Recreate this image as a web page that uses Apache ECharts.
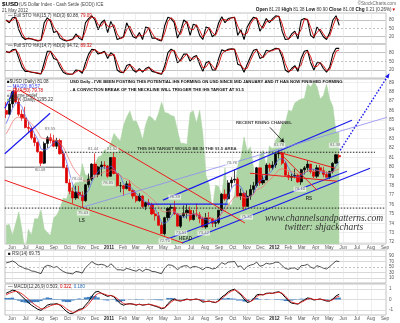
<!DOCTYPE html>
<html>
<head>
<meta charset="utf-8">
<title>$USD Daily</title>
<script src="https://cdn.jsdelivr.net/npm/echarts@6/dist/echarts.min.js"></script>
<style>
  html, body { margin: 0; padding: 0; background: #fff; }
  #chart { width: 400px; height: 323px; }
</style>
</head>
<body>
<div id="chart"></div>
<script>
// ---------- weekly $USD bars, first bar = week of Monday 17 May 2010 ----------
const firstWeek = '2010-05-17';
const open = [86.0,85.6,86.7,88.0,86.9,85.6,85.2,84.2,84.1,83.1, 82.6,81.6,80.4,82.5,83.1,82.8,82.2,82.8,81.4,79.9,
  78.3,77.4,76.7,77.3,77.0,76.4,78.1,78.7,80.3,79.2, 80.0,80.2,80.1,79.0,81.0,79.3,78.0,78.0,77.7,78.2,
  77.5,76.9,76.4,76.9,75.8,76.2,76.0,75.0,74.8,73.8, 72.9,74.6,75.6,75.7,75.0,73.7,74.8,75.1,75.4,74.4,
  75.0,74.9,74.5,73.6,74.6,74.5,74.0,74.1,75.4,77.1, 76.6,78.3,78.6,78.7,76.9,77.2,75.8,76.9,77.6,78.0,
  79.9,78.3,78.6,80.2,79.9,80.2,81.4,81.5,80.4,79.1, 78.9,79.0,79.1,78.4,79.7,79.9,80.3,79.5,79.0,79.9,
  79.6,79.2,78.9,79.5,80.4,81.20];
const high = [86.9,87.2,88.1,88.7,87.3,86.1,86.4,84.8,84.3,83.5, 82.7,81.7,82.7,83.3,83.55,83.4,83.1,83.0,81.8,80.2,
  78.7,77.8,78.0,78.0,77.4,78.2,79.3,80.4,81.44,80.1, 80.6,80.6,80.2,81.0,81.52,79.4,78.4,78.1,78.5,78.6,
  77.6,77.3,77.2,77.0,76.3,76.6,76.2,75.4,75.2,74.1, 74.7,75.7,76.0,76.39,75.1,74.9,75.9,76.0,75.8,75.4,
  76.1,75.2,74.7,75.1,75.2,74.6,74.4,75.4,77.2,77.6, 78.6,78.9,79.76,78.9,77.7,77.3,77.5,78.1,78.4,80.0,
  79.9,79.1,80.4,80.4,80.6,81.4,81.78,81.6,80.6,79.5, 79.3,79.8,79.3,79.8,80.1,80.7,80.3,79.8,80.2,80.2,
  80.0,79.5,79.6,80.5,81.38,81.38];
const low = [85.2,85.5,86.3,86.8,85.4,84.9,84.1,83.6,82.9,82.2, 81.5,80.08,80.3,82.0,82.5,82.1,81.9,81.3,79.9,78.3,
  77.1,76.1,76.5,76.6,75.63,76.3,77.8,78.5,79.1,78.9, 79.0,79.8,78.85,79.0,79.2,77.9,77.3,76.9,77.6,77.4,
  76.6,76.2,76.3,75.6,75.4,75.8,74.9,74.3,73.7,72.9, 72.70,74.3,74.9,74.9,73.7,73.51,74.6,74.5,74.2,74.3,
  74.7,74.0,73.6,73.42,73.9,73.6,73.6,73.9,75.3,76.4, 76.5,77.8,78.3,76.8,76.5,75.31,75.8,76.5,77.2,77.8,
  78.0,78.1,78.6,79.5,79.7,79.9,80.9,80.2,79.1,78.6, 78.5,78.8,78.3,78.10,79.2,79.5,79.3,78.8,78.8,79.2,
  78.9,78.9,78.7,79.3,80.3,80.90];
const close = [85.6,86.7,88.0,86.9,85.6,85.2,84.2,84.1,83.1,82.6, 81.6,80.4,82.5,83.1,82.8,82.2,82.8,81.4,79.9,78.3,
  77.4,76.7,77.3,77.0,76.4,78.1,78.7,80.3,79.2,80.0, 80.2,80.1,79.0,81.0,79.3,78.0,78.0,77.7,78.2,77.5,
  76.9,76.4,76.9,75.8,76.2,76.0,75.0,74.8,73.8,72.9, 74.6,75.6,75.7,75.0,73.7,74.8,75.1,75.4,74.4,75.0,
  74.9,74.5,73.6,74.6,74.5,74.0,74.1,75.4,77.1,76.6, 78.3,78.6,78.7,76.9,77.2,75.8,76.9,77.6,78.0,79.9,
  78.3,78.6,80.2,79.9,80.2,81.4,81.5,80.4,79.1,78.9, 79.0,79.1,78.4,79.7,79.9,80.3,79.5,79.0,79.9,79.6,
  79.2,78.9,79.5,80.4,81.29,81.08];
const ma20 = [84.6,85.4,86.2,86.8,86.8,86.4,85.5,84.8,84.2,83.5, 82.9,81.9,81.8,81.9,82.2,82.6,82.7,82.3,81.6,80.6,
  79.3,78.1,77.4,77.1,76.8,77.1,77.5,78.4,79.1,79.5, 79.9,79.9,79.8,80.1,79.8,79.3,79.1,78.2,78.0,77.9,
  77.6,77.2,76.9,76.5,76.3,76.2,75.7,75.5,74.9,74.1, 74.0,74.2,74.7,75.2,75.0,74.8,74.6,74.8,74.9,75.0,
  74.9,74.7,74.5,74.4,74.3,74.2,74.3,74.5,75.2,75.8, 76.9,77.7,78.1,78.1,77.9,77.2,76.7,76.9,77.1,78.1,
  78.5,78.7,79.2,79.3,79.7,80.4,80.8,80.9,80.6,79.9, 79.3,79.0,78.9,79.1,79.3,79.6,79.8,79.7,79.7,79.5,
  79.4,79.4,79.3,79.5,80.1,80.57];
const ema50 = [83.5,84.1,84.8,85.2,85.3,85.2,85.1,84.9,84.6,84.2, 83.7,83.1,83.0,83.0,83.0,82.9,82.8,82.6,82.1,81.4,
  80.7,80.0,79.5,79.1,78.6,78.5,78.5,78.9,78.9,79.1, 79.3,79.5,79.4,79.7,79.6,79.3,79.1,78.8,78.7,78.5,
  78.2,77.9,77.7,77.4,77.2,76.9,76.6,76.3,75.8,75.3, 75.2,75.3,75.3,75.3,75.0,75.0,75.0,75.1,74.9,75.0,
  74.9,74.9,74.6,74.6,74.6,74.5,74.4,74.6,75.1,75.3, 75.9,76.4,76.8,76.8,76.9,76.7,76.7,76.9,77.1,77.6,
  77.7,77.9,78.3,78.6,78.9,79.3,79.7,79.8,79.7,79.6, 79.5,79.4,79.2,79.3,79.4,79.6,79.6,79.5,79.6,79.6,
  79.5,79.4,79.4,79.5,79.65,79.78];
const spx = [1087,1089,1064,1091,1117,1076,1022,1078,1065,1102, 1101,1121,1079,1071,1064,1104,1110,1125,1148,1146,
  1165,1176,1183,1183,1225,1199,1199,1189,1224,1240, 1243,1256,1258,1271,1293,1283,1276,1311,1329,1343,
  1320,1321,1304,1279,1313,1332,1328,1319,1337,1363, 1340,1338,1333,1331,1300,1271,1271,1268,1339,1344,
  1316,1345,1292,1199,1178,1123,1177,1174,1154,1216, 1136,1131,1155,1224,1238,1285,1253,1263,1216,1159,
  1244,1255,1219,1265,1258,1278,1289,1315,1316,1345, 1342,1361,1366,1370,1371,1404,1397,1408,1398,1370,
  1378,1403,1369,1353,1295.22,1295.22];

// ---------- indicator panels ----------
const stoK1 = [80,70,88,90,45,20,10,15,12,8, 5,8,70,88,75,35,40,15,8,5, 8,12,30,15,8,70,85,95,80,45,
  70,80,35,75,50,10,15,20,70,45, 20,15,35,10,55,50,15,15,8,5, 60,90,85,70,15,40,80,70,25,65,
  60,25,10,55,50,20,30,70,92,70, 85,88,90,25,45,10,55,75,90,85, 40,60,85,70,85,95,92,40,10,12,
  30,40,12,80,85,80,25,15,55,40, 20,10,35,80,95,60.88];
const stoD1 = [78,75,79,89,68,33,15,12,13,10, 7,7,39,79,82,55,38,28,12,7, 7,10,21,23,12,39,78,90,88,63,
  58,75,58,55,63,30,13,18,45,58, 33,18,25,23,33,53,33,15,12,7, 33,75,88,78,43,28,60,75,48,45,
  63,43,18,33,53,35,25,50,81,81, 78,87,89,58,35,28,33,65,83,88, 63,50,73,78,78,90,94,66,25,11,
  21,35,26,46,83,83,53,20,35,48, 30,15,23,58,88,79.09];
const stoK2 = [85,80,90,92,60,30,15,15,12,10, 8,6,45,85,85,60,55,30,12,6, 5,6,20,18,8,45,75,92,90,75,
  80,85,60,80,70,20,12,10,35,40, 20,12,25,12,25,30,15,12,8,5, 35,80,92,85,45,55,75,75,50,65,
  70,40,15,45,50,20,20,60,90,85, 92,93,92,40,35,12,40,65,88,92, 60,65,88,85,90,95,93,65,20,12,
  25,35,15,60,85,88,45,20,45,45, 25,12,30,75,95,94.72];
const stoD2 = [82,82,85,91,76,45,22,15,13,11, 9,7,25,65,85,72,57,42,21,9, 6,5,13,19,13,26,60,84,91,82,
  77,82,72,70,75,45,16,11,22,37, 30,16,18,18,18,27,22,13,10,7, 20,57,86,88,65,50,65,75,62,57,
  67,55,27,30,47,35,20,40,75,87, 88,92,92,66,37,23,26,52,76,90, 76,62,76,86,87,92,94,79,42,16,
  18,30,25,37,72,86,66,32,32,45, 35,18,21,52,85,89.32];
const rsi14 = [65,68,72,66,55,50,44,42,36,34, 30,26,50,56,54,48,52,42,34,29, 27,25,34,32,28,48,58,70,62,58,
  60,57,50,62,52,40,40,38,45,42, 38,35,42,34,42,40,34,33,29,26, 46,58,57,52,40,50,54,55,46,52,
  51,47,40,49,48,43,45,55,66,60, 68,69,70,52,54,40,52,57,60,68, 53,56,64,61,63,68,67,55,45,42,
  46,47,40,55,56,60,50,45,55,51, 46,43,52,62,72,69.75];
const macdLine = [0.6,0.75,0.9,0.85,0.6,0.3,0.0,-0.3,-0.55,-0.75, -0.95,-1.05,-0.8,-0.55,-0.45,-0.45,-0.4,-0.55,-0.85,-1.15,
  -1.35,-1.35,-1.15,-0.95,-0.9,-0.55,-0.2,0.3,0.7,0.8, 0.6,0.45,0.3,0.4,0.25,-0.1,-0.4,-0.55,-0.45,-0.4,
  -0.45,-0.55,-0.45,-0.55,-0.5,-0.45,-0.55,-0.65,-0.75,-0.9, -0.8,-0.4,-0.1,0.05,-0.1,-0.15,-0.05,0.05,-0.05,0.0,
  0.05,-0.05,-0.25,-0.2,-0.15,-0.25,-0.3,-0.1,0.25,0.45, 0.75,0.9,1.0,0.7,0.45,0.05,-0.3,-0.2,0.05,0.45,
  0.5,0.45,0.6,0.62,0.6,0.7,0.75,0.55,0.2,-0.15, -0.35,-0.4,-0.45,-0.2,-0.05,0.15,0.1,-0.05,0.0,0.05,
  -0.05,-0.15,-0.15,0.05,0.35,0.503];
const macdSignal = [0.45,0.6,0.72,0.8,0.72,0.55,0.3,0.05,-0.25,-0.5, -0.7,-0.9,-0.9,-0.75,-0.6,-0.5,-0.45,-0.5,-0.65,-0.9,
  -1.1,-1.25,-1.2,-1.05,-0.95,-0.75,-0.45,-0.05,0.35,0.6, 0.62,0.52,0.4,0.38,0.3,0.1,-0.15,-0.4,-0.45,-0.43,
  -0.44,-0.5,-0.48,-0.52,-0.5,-0.47,-0.52,-0.6,-0.68,-0.82, -0.8,-0.55,-0.25,-0.05,-0.07,-0.12,-0.08,0.0,-0.02,0.0,
  0.02,-0.02,-0.15,-0.2,-0.17,-0.22,-0.27,-0.17,0.1,0.35, 0.6,0.8,0.92,0.8,0.55,0.25,-0.1,-0.18,-0.05,0.3,
  0.45,0.45,0.55,0.6,0.6,0.65,0.7,0.62,0.35,0.0, -0.25,-0.35,-0.42,-0.28,-0.12,0.05,0.08,0.0,0.0,0.03,
  -0.02,-0.1,-0.13,-0.02,0.2,0.322];
const macdHist = [0.15,0.15,0.18,0.05,-0.12,-0.25,-0.3,-0.35,-0.3,-0.25, -0.25,-0.15,0.1,0.2,0.15,0.05,0.05,-0.05,-0.2,-0.25,
  -0.25,-0.1,0.05,0.1,0.05,0.2,0.25,0.35,0.35,0.2, -0.02,-0.07,-0.1,0.02,-0.05,-0.2,-0.25,-0.15,0.0,0.03,
  -0.01,-0.05,0.03,-0.03,0.0,0.02,-0.03,-0.05,-0.07,-0.08, 0.0,0.15,0.15,0.1,-0.03,-0.03,0.03,0.05,-0.03,0.0,
  0.03,-0.03,-0.1,0.0,0.02,-0.03,-0.03,0.07,0.15,0.1, 0.15,0.1,0.08,-0.1,-0.1,-0.2,-0.2,-0.02,0.1,0.15,
  0.05,0.0,0.05,0.02,0.0,0.05,0.05,-0.07,-0.15,-0.15, -0.1,-0.05,-0.03,0.08,0.07,0.1,0.02,-0.05,0.0,0.02,
  -0.03,-0.05,-0.02,0.07,0.15,0.180];

// ---------- axes ----------
const monthStarts = ['2010-06-01','2010-07-01','2010-08-01','2010-09-01','2010-10-01','2010-11-01','2010-12-01',
  '2011-01-01','2011-02-01','2011-03-01','2011-04-01','2011-05-01','2011-06-01','2011-07-01','2011-08-01',
  '2011-09-01','2011-10-01','2011-11-01','2011-12-01','2012-01-01','2012-02-01','2012-03-01','2012-04-01',
  '2012-05-01','2012-06-01','2012-07-01','2012-08-01','2012-09-01'];
const monthLabels = ['Jun','Jul','Aug','Sep','Oct','Nov','Dec','2011','Feb','Mar','Apr','May','Jun','Jul','Aug',
  'Sep','Oct','Nov','Dec','2012','Feb','Mar','Apr','May','Jun','Jul','Aug','Sep'];
const priceTicks = [72,73,74,75,76,77,78,79,80,81,82,83,84,85,86,87,88,89];
const stoLabels = [20,50,80];
const rsiLabels = [10,30,50,70,90];
const macdLabels = [-1,0,1];

// ---------- hand-drawn study lines, as [date, price] ----------
const blueLines = [
  [['2010-05-16', 86.23], ['2010-06-05', 88.14]],
  [['2010-05-16', 81.40], ['2010-08-24', 85.70]],
  [['2011-06-11', 71.91], ['2012-07-30', 79.86]],
  [['2011-05-04', 72.22], ['2012-06-09', 79.54]],
  [['2011-04-30', 76.47], ['2012-06-20', 84.96]],
  [['2011-03-26', 76.04], ['2011-09-20', 76.04]]
];
const blueFaintLines = [[['2010-11-05', 75.73], ['2012-09-05', 85.27]]];
const redLines = [
  [['2010-06-19', 88.14], ['2011-10-28', 74.03]],
  [['2010-05-16', 78.59], ['2011-06-13', 71.91]],
  [['2012-01-11', 81.56], ['2012-05-14', 79.86]],
  [['2012-01-11', 81.56], ['2012-04-04', 77.53]],
  [['2011-11-08', 79.33], ['2012-05-18', 78.48]]
];
const greyLines = [[['2010-05-16', 79.97], ['2010-09-21', 79.97]]];
const dottedLevels = [
  [['2010-09-19', 81.56], ['2012-08-10', 81.56]],
  [['2010-05-16', 75.62], ['2012-09-01', 75.62]]
];
const targetPath = [['2012-05-25', 81.77], ['2012-09-08', 89.73]];
const channelPointer = [['2011-12-22', 84.21], ['2012-01-22', 82.62]];

const priceNotes = [
  ['83.55','2010-08-24',84.00], ['80.08','2010-08-02',79.65], ['81.44','2010-11-27',81.88],
  ['81.52','2011-01-08',81.88], ['78.04','2010-10-22',78.70], ['78.85','2010-12-30',78.27],
  ['75.63','2010-11-05',75.09], ['72.70','2011-05-04',72.12], ['73.51','2011-06-09',72.97],
  ['73.42','2011-07-29',72.97], ['76.39','2011-05-26',76.79], ['79.76','2011-09-29',80.39],
  ['75.31','2011-11-01',74.66], ['81.78','2012-01-11',82.30], ['78.10','2012-02-26',77.63],
  ['81.38','2012-05-14',82.30]
];
const patternNotes = [['LS','2010-11-02',74.24], ['HEAD','2011-06-19',72.33], ['RS','2012-03-17',76.57]];
const chartNotes = [
  ['THIS IHS TARGET WOULD BE IN THE 91.5 AREA','2011-03-04',81.90],
  ['RECENT RISING CHANNEL','2011-10-08',84.64]
];

// ---------- build ----------
const DAY = 86400000;
const ts = s => Date.parse(s + 'T00:00:00Z');
const weekTimes = close.map((c, i) => ts(firstWeek) + (7 * i + 2) * DAY);
const monthTimes = monthStarts.map(ts);
const xMin = Date.UTC(2010, 4, 16, 12);
const xMax = Date.UTC(2012, 8, 3, 5);
const FONT = '"Liberation Sans", Arial, sans-serif';
const pairs = arr => arr.map((v, i) => [weekTimes[i], v]);

const L = 5, R = 14;
const grids = [
  { left: L, right: R, top: 13, height: 31 },
  { left: L, right: R, top: 44, height: 34 },
  { left: L, right: R, top: 79, height: 165 },
  { left: L, right: R, top: 250, height: 33 },
  { left: L, right: R, top: 284, height: 31 }
].map(g => Object.assign({ show: true, borderColor: '#a8a8a8', borderWidth: 0.7 }, g));

function timeAxis(gridIndex, showLabels) {
  return {
    type: 'value', gridIndex, min: xMin, max: xMax,
    axisLine: { show: false },
    axisTick: { show: false, customValues: monthTimes },
    splitLine: { show: true, lineStyle: { color: '#e3e3e3', width: 0.6 } },
    axisLabel: {
      show: showLabels, customValues: monthTimes, margin: 1.5,
      fontSize: 4.6, color: '#555', fontFamily: FONT,
      formatter: v => {
        const s = monthLabels[monthTimes.indexOf(v)] || '';
        return /^\d{4}$/.test(s) ? '{y|' + s + '}' : s;
      },
      rich: { y: { fontWeight: 'bold', fontSize: 4.6, color: '#222', fontFamily: FONT } }
    }
  };
}
function rightAxis(gridIndex, min, max, labels, lines, lineColor) {
  return {
    type: 'value', gridIndex, position: 'right', min, max,
    axisLine: { show: false },
    axisTick: { show: false, customValues: lines },
    axisLabel: { customValues: labels, margin: 3, fontSize: 4.6, color: '#555', fontFamily: FONT },
    splitLine: { show: true, lineStyle: { color: lineColor, width: 0.6 } }
  };
}

const xAxes = [timeAxis(0, false), timeAxis(1, false), timeAxis(2, true), timeAxis(3, false), timeAxis(4, true)];
const yAxes = [
  rightAxis(0, -6, 105, stoLabels, [20, 80], '#9a9a9a'),
  rightAxis(1, -8, 110, stoLabels, [20, 80], '#9a9a9a'),
  rightAxis(2, 71.8, 89.35, priceTicks, priceTicks, '#e3e3e3'),
  rightAxis(3, -8, 112, rsiLabels, [10, 30, 70, 90], '#bdbdbd'),
  rightAxis(4, -1.5, 1.5, macdLabels, [-1, 0, 1], '#c8c8c8'),
  { type: 'value', gridIndex: 2, min: 1045, max: 1415, show: false, splitLine: { show: false } }
];

const dashedMid = v => ({
  silent: true, symbol: 'none', animation: false, label: { show: false },
  lineStyle: { color: '#9a9a9a', type: [2, 2], width: 0.6 }, data: [{ yAxis: v }]
});

function segmentSeries(segments, style, z) {
  return segments.map(seg => ({
    type: 'line', xAxisIndex: 2, yAxisIndex: 2, silent: true, symbol: 'none',
    animation: false, z: z || 5, lineStyle: style,
    data: seg.map(p => [ts(p[0]), p[1]])
  }));
}
function noteSeries(notes, labelStyle, position) {
  return {
    type: 'scatter', xAxisIndex: 2, yAxisIndex: 2, silent: true, animation: false, z: 8,
    symbolSize: 0.1, itemStyle: { color: 'transparent' },
    label: Object.assign({ show: true, position: position, distance: 0, formatter: p => p.name, fontFamily: FONT }, labelStyle),
    data: notes.map(n => ({ name: n[0], value: [ts(n[1]), n[2]] }))
  };
}

const series = [
  // Panel: full stochastics
  { type: 'line', xAxisIndex: 0, yAxisIndex: 0, data: pairs(stoK1), symbol: 'none', lineStyle: { color: '#000', width: 1.1 }, markLine: dashedMid(50) },
  { type: 'line', xAxisIndex: 0, yAxisIndex: 0, data: pairs(stoD1), symbol: 'none', lineStyle: { color: '#d40000', width: 0.9 } },
  { type: 'line', xAxisIndex: 1, yAxisIndex: 1, data: pairs(stoK2), symbol: 'none', lineStyle: { color: '#000', width: 1.1 }, markLine: dashedMid(50) },
  { type: 'line', xAxisIndex: 1, yAxisIndex: 1, data: pairs(stoD2), symbol: 'none', lineStyle: { color: '#d40000', width: 0.9 } },

  // Main panel: S&P 500 backdrop, price bars, averages
  { type: 'line', xAxisIndex: 2, yAxisIndex: 5, data: pairs(spx), symbol: 'none', z: 1,
    lineStyle: { color: '#a9d3a1', width: 0.5 }, areaStyle: { color: '#aed5a6', opacity: 1, origin: 'start' } },
  { type: 'candlestick', xAxisIndex: 2, yAxisIndex: 2, z: 3, barWidth: 2.7,
    encode: { x: 0, y: [1, 2, 3, 4] },
    itemStyle: { color: '#000', color0: '#e00000', borderColor: '#000', borderColor0: '#e00000', borderWidth: 0.7 },
    data: close.map((c, i) => [weekTimes[i], open[i], c, low[i], high[i]]) },
  { type: 'line', xAxisIndex: 2, yAxisIndex: 2, data: pairs(ma20), symbol: 'none', z: 4, lineStyle: { color: '#4f5ff0', width: 0.7 } },
  { type: 'line', xAxisIndex: 2, yAxisIndex: 2, data: pairs(ema50), symbol: 'none', z: 4, lineStyle: { color: '#f07070', width: 0.7 } },

  ...segmentSeries(blueLines, { color: '#1a1aee', width: 1.2 }),
  ...segmentSeries(blueFaintLines, { color: '#8c8cf2', width: 0.8 }),
  ...segmentSeries(redLines, { color: '#ee1c1c', width: 1.0 }),
  ...segmentSeries(greyLines, { color: '#666', width: 1.0 }),
  ...segmentSeries(dottedLevels, { color: '#222', width: 1.0, type: [1.5, 1.5] }),

  { type: 'line', xAxisIndex: 2, yAxisIndex: 2, silent: true, animation: false, clip: false, z: 6,
    lineStyle: { color: '#1a1aee', width: 1.4, type: [1.6, 1.6] }, itemStyle: { color: '#1a1aee' },
    showSymbol: true,
    data: [
      { value: [ts(targetPath[0][0]), targetPath[0][1]], symbol: 'none' },
      { value: [ts(targetPath[1][0]), targetPath[1][1]], symbol: 'triangle', symbolSize: [4, 5], symbolRotate: -33 }
    ] },
  { type: 'line', xAxisIndex: 2, yAxisIndex: 2, silent: true, data: [], animation: false,
    markLine: { silent: true, animation: false, symbol: ['none', 'arrow'], symbolSize: 4, label: { show: false },
      lineStyle: { color: '#111', width: 0.8, type: 'solid' },
      data: [[{ coord: [ts(channelPointer[0][0]), channelPointer[0][1]] }, { coord: [ts(channelPointer[1][0]), channelPointer[1][1]] }]] } },

  noteSeries(priceNotes, { fontSize: 4.2, color: '#555', backgroundColor: 'rgba(250,250,250,0.9)', padding: [0.5, 1] }, 'inside'),
  noteSeries(patternNotes, { fontSize: 4.6, color: '#111', fontWeight: 'bold' }, 'inside'),
  noteSeries(chartNotes, { fontSize: 4.3, color: '#111', fontWeight: 'bold' }, 'right'),

  // RSI
  { type: 'line', xAxisIndex: 3, yAxisIndex: 3, data: pairs(rsi14), symbol: 'none', lineStyle: { color: '#222', width: 0.8 }, markLine: dashedMid(50) },

  // MACD
  { type: 'bar', xAxisIndex: 4, yAxisIndex: 4, data: pairs(macdHist), barWidth: 3.3, itemStyle: { color: '#3f7fc2' } },
  { type: 'line', xAxisIndex: 4, yAxisIndex: 4, data: pairs(macdLine), symbol: 'none', lineStyle: { color: '#000', width: 1.0 } },
  { type: 'line', xAxisIndex: 4, yAxisIndex: 4, data: pairs(macdSignal), symbol: 'none', lineStyle: { color: '#e02020', width: 0.9 } }
];

// ---------- header, legends, notes ----------
function txt(x, y, text, font, fill, align, rich) {
  return { type: 'text', x, y, silent: true, z: 100,
    style: { text, font, fill: fill || '#222', align: align || 'left', verticalAlign: 'middle', rich } };
}
const f = (s, w) => (w || '') + ' ' + s + 'px ' + FONT;
const richSet = {
  b: { fontWeight: 'bold', fontSize: 4.7, fontFamily: FONT, fill: '#111' },
  r: { fontSize: 4.5, fontFamily: FONT, fill: '#d40000' },
  u: { fontSize: 4.5, fontFamily: FONT, fill: '#2d6fb8' },
  bl: { fontSize: 4.5, fontFamily: FONT, fill: '#3344ee' },
  k: { fontSize: 4.5, fontFamily: FONT, fill: '#111' },
  g: { fontSize: 4.5, fontFamily: FONT, fill: '#999' },
  gr: { fontSize: 4.5, fontFamily: FONT, fill: '#8fc487' },
  t: { fontSize: 4.5, fontFamily: FONT, fill: '#333' }
};
const graphics = [
  txt(2, 4, '$USD', f(6.2, 'bold'), '#000'),
  txt(19, 4.3, '(US Dollar Index - Cash Settle (EOD)) ICE', f(4.5), '#444'),
  txt(2, 11, '21 May 2012', f(4.5), '#444'),
  txt(396, 3.5, '©StockCharts.com', f(4.6), '#666', 'right'),
  txt(396, 9.5, '{b|Open} {t|81.20} {b|High} {t|81.38} {b|Low} {t|80.90} {b|Close} {t|81.08} {b|Chg} {t|0.21 (0.26%)}{r|▼}',
      f(4.5), '#333', 'right', richSet),

  txt(8, 15.5, '{k|—} {t|Full STO %K(15,7) %D(3) 60.88, }{r|79.09}', f(4.5), '#333', 'left', richSet),
  txt(8, 45.5, '{k|—} {t|Full STO %K(14,7) %D(3) 94.72, }{r|89.32}', f(4.5), '#333', 'left', richSet),

  txt(7, 81.5, '{k|■}{t|$USD (Daily) 81.08}', f(4.5), '#333', 'left', richSet),
  txt(7, 86.5, '{bl|— MA(20) 80.57}', f(4.5), '#33e', 'left', richSet),
  txt(7, 91, '{r|— EMA(50) 79.78}', f(4.5), '#d00', 'left', richSet),
  txt(7, 95.5, '{g|■}{t|Volume undef}', f(4.5), '#333', 'left', richSet),
  txt(7, 100, '{gr|■}{t|$SPX (Daily) 1295.22}', f(4.5), '#333', 'left', richSet),

  txt(70, 82, "USD Daily - I'VE BEEN POSTING THIS POTENTIAL IHS FORMING ON USD SINCE MID JANUARY AND IT HAS NOW FINISHED FORMING", f(4.25, 'bold'), '#111'),
  txt(70, 89.5, '- A CONVICTION BREAK OF THE NECKLINE WILL TRIGGER THE IHS TARGET AT 91.5', f(4.25, 'bold'), '#111'),

  txt(324, 218.5, 'www.channelsandpatterns.com', 'italic 9.5px "Liberation Serif", "DejaVu Serif", serif', '#333', 'center'),
  txt(324, 227.5, 'twitter: shjackcharts', 'italic 9.5px "Liberation Serif", "DejaVu Serif", serif', '#333', 'center'),

  txt(8, 253.5, '{k|■}{t| RSI(14) 69.75}', f(4.5), '#333', 'left', richSet),
  txt(8, 287, '{k|—}{t| MACD(12,26,9) 0.503, }{r|0.322}{t|, }{u|0.180}', f(4.5), '#333', 'left', richSet)
];

const chart = echarts.init(document.getElementById('chart'), null, { renderer: 'canvas' });
chart.setOption({
  animation: false,
  backgroundColor: '#fff',
  textStyle: { fontFamily: FONT },
  grid: grids,
  xAxis: xAxes,
  yAxis: yAxes,
  series,
  graphic: graphics
});
</script>
</body>
</html>
